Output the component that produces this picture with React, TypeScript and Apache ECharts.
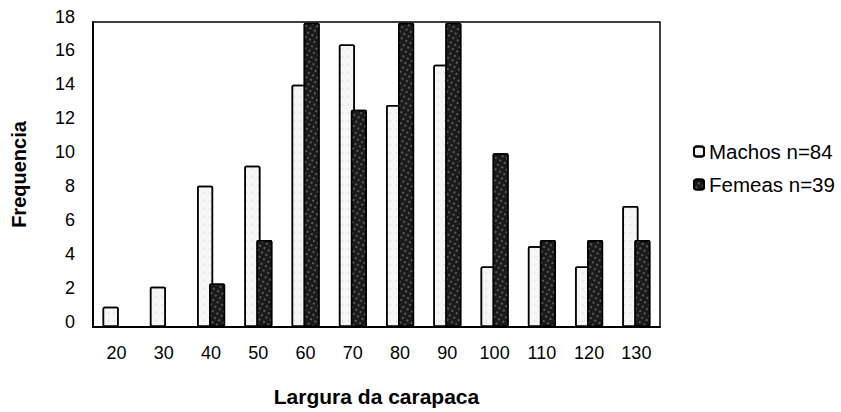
import React, { useEffect, useRef } from "react";
import * as echarts from "echarts";

const categories = ["20", "30", "40", "50", "60", "70", "80", "90", "100", "110", "120", "130"];
const machos = [1.19, 2.38, 8.33, 9.52, 14.29, 16.67, 13.1, 15.48, 3.57, 4.76, 3.57, 7.14];
const femeas = [0, 0, 2.56, 5.13, 17.95, 12.82, 17.95, 17.95, 10.26, 5.13, 5.13, 5.13];
const seriesNames = ["Machos n=84", "Femeas n=39"];
const yTicks = { min: 0, max: 18, interval: 2 };

const FONT = "'Liberation Sans', Arial, sans-serif";

export default function App() {
  const ref = useRef<HTMLDivElement>(null);
  useEffect(() => {
    if (!ref.current) return;
    const chart = echarts.init(ref.current, null, { renderer: "svg" });
    chart.setOption({
      animation: false,
      backgroundColor: "#ffffff",
      textStyle: { fontFamily: FONT, color: "#000" },
      grid: {
        left: 93,
        right: 181,
        top: 22,
        bottom: 85,
        show: true,
        borderColor: "#000",
        borderWidth: 1.5,
        backgroundColor: "transparent",
      },
      legend: {
        orient: "vertical",
        left: 688,
        top: 136,
        itemWidth: 10,
        itemHeight: 10,
        itemGap: 12,
        textStyle: { fontSize: 20.5, fontFamily: FONT, color: "#000" },
        data: seriesNames,
      },
      xAxis: {
        type: "category",
        data: categories,
        axisTick: { show: false },
        axisLine: { lineStyle: { color: "#000", width: 2 } },
        axisLabel: { fontSize: 18, color: "#000", margin: 17, fontFamily: FONT },
        name: "Largura da carapaca",
        nameLocation: "middle",
        nameGap: 59,
        nameTextStyle: { fontSize: 21, fontWeight: "bold", color: "#000", fontFamily: FONT },
      },
      yAxis: {
        type: "value",
        min: yTicks.min,
        max: yTicks.max,
        interval: yTicks.interval,
        splitLine: { show: false },
        axisTick: { show: false },
        axisLine: { show: true, lineStyle: { color: "#000", width: 2 } },
        axisLabel: {
          fontSize: 18,
          color: "#000",
          margin: 18,
          fontFamily: FONT,
          verticalAlign: "bottom",
          lineHeight: 11,
        },
        name: "Frequencia",
        nameLocation: "middle",
        nameGap: 64,
        nameTextStyle: { fontSize: 20, fontWeight: "bold", color: "#000", fontFamily: FONT },
      },
      series: [
        {
          name: seriesNames[0],
          type: "bar",
          data: machos,
          barWidth: 16,
          barGap: "-25%",
          itemStyle: {
            color: "#f6f6f6",
            borderColor: "#000",
            borderWidth: 1.5,
            borderRadius: 1,
            decal: {
              symbol: "rect",
              symbolSize: 0.6,
              color: "rgba(0,0,0,0.35)",
              dashArrayX: [1, 5],
              dashArrayY: [2, 6],
              rotation: 0,
            },
          },
        },
        {
          name: seriesNames[1],
          type: "bar",
          data: femeas,
          barWidth: 16,
          itemStyle: {
            color: "#1a1a1a",
            borderColor: "#000",
            borderWidth: 1.5,
            borderRadius: 1,
            decal: {
              symbol: "rect",
              symbolSize: 0.7,
              color: "rgba(200,200,200,0.7)",
              dashArrayX: [2, 3],
              dashArrayY: [2, 3],
              rotation: 0.5,
            },
          },
        },
      ],
    });
    return () => chart.dispose();
  }, []);
  return (
    <div
      ref={ref}
      style={{ position: "absolute", left: 0, top: 0, width: 841, height: 412 }}
    />
  );
}
